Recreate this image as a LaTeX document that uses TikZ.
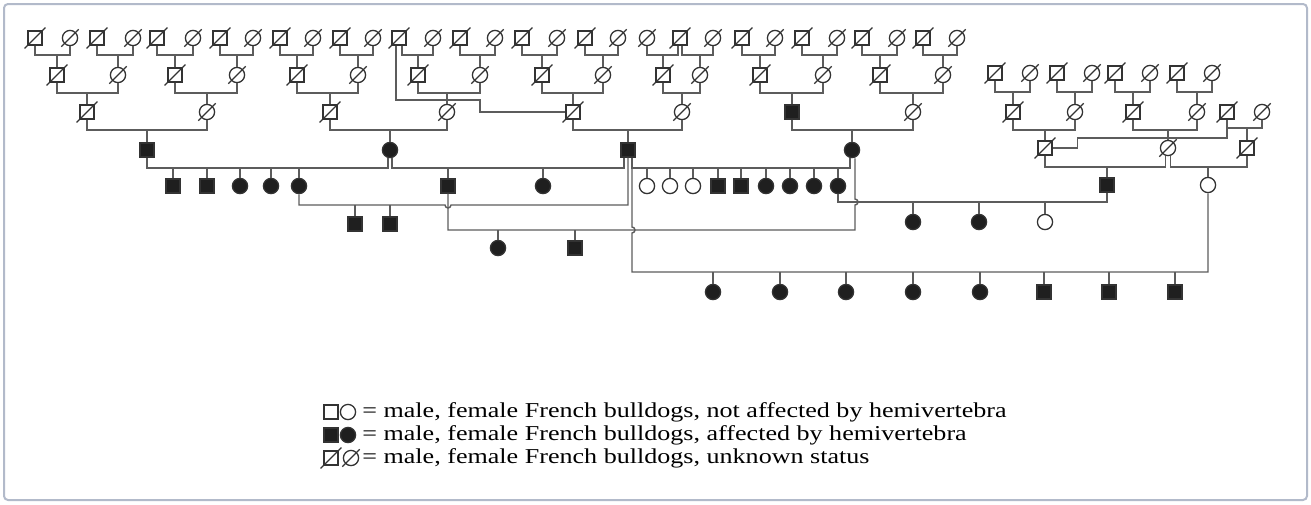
\documentclass[tikz,border=0pt]{standalone}
\usepackage{fontspec}
\setmainfont{Liberation Serif}
\usetikzlibrary{calc}
\definecolor{lc}{gray}{0.36}
\definecolor{sc}{gray}{0.2}
\definecolor{framec}{RGB}{178,186,202}
\tikzset{
  sym/.style={draw=sc, line width=0.65pt, inner sep=0pt},
  male/.style={sym, rectangle, minimum size=7pt},
  fem/.style={sym, circle, minimum size=7.6pt},
  aff/.style={fill=black!88},
  unk/.style={append after command={(\tikzlastnode.south west) edge[draw=sc, line width=0.6pt, shorten <=-2pt, shorten >=-2pt] (\tikzlastnode.north east)}},
  lin/.style={draw=lc, line width=0.7pt},
  legtxt/.style={anchor=west, inner sep=0pt, font=\fontsize{10.6}{12}\selectfont}
}
\begin{document}
\begin{tikzpicture}[x=0.5pt, y=-0.5pt]
        \useasboundingbox (0,0) rectangle (1311,504);
        \draw[framec, line width=1pt, rounded corners=2pt] (4,4) rectangle (1307,500);

        % Founders of the left tree
        \foreach \n/\xx/\s in {a1/35/male, a2/70/fem, a3/97/male, a4/133/fem, a5/157/male, a6/193/fem,
            a7/220/male, a8/253/fem, a9/280/male, a10/313/fem, a11/340/male, a12/373/fem, a13/399/male,
            a14/433/fem, a15/460/male, a16/495/fem, a17/522/male, a18/557/fem, a19/585/male, a20/618/fem,
            a21/647/fem, a22/680/male, a23/713/fem, a24/742/male, a25/775/fem, a26/802/male, a27/837/fem,
            a28/862/male, a29/897/fem, a30/923/male, a31/957/fem}
            \node[\s, unk] (\n) at (\xx,38) {};
        \foreach \n/\xx/\s in {b1/57/male, b2/118/fem, b3/175/male, b4/237/fem, b5/297/male, b6/358/fem,
            b7/418/male, b8/480/fem, b9/542/male, b10/603/fem, b11/663/male, b12/700/fem, b13/760/male,
            b14/823/fem, b15/880/male, b16/943/fem}
            \node[\s, unk] (\n) at (\xx,75) {};
        \foreach \n/\xx/\s in {c1/87/male, c2/207/fem, c3/330/male, c4/447/fem, c5/573/male, c6/682/fem, c8/913/fem}
            \node[\s, unk] (\n) at (\xx,112) {};
        \node[male, aff] (c7) at (792,112) {};

        % Founders of the right tree
        \foreach \n/\xx/\s in {r1/995/male, r2/1030/fem, r3/1057/male, r4/1092/fem, r5/1115/male,
            r6/1150/fem, r7/1177/male, r8/1212/fem}
            \node[\s, unk] (\n) at (\xx,73) {};
        \foreach \n/\xx/\s in {s1/1013/male, s2/1075/fem, s3/1133/male, s4/1197/fem, s5/1227/male, s6/1262/fem}
            \node[\s, unk] (\n) at (\xx,112) {};
        \foreach \n/\xx/\s in {t1/1045/male, t2/1168/fem, t3/1247/male}
            \node[\s, unk] (\n) at (\xx,148) {};
        \node[male, aff] (u1) at (1107,185) {};
        \node[fem] (u2) at (1208,185) {};

        % Affected dogs and their litters
        \node[male, aff] (d1) at (147,150) {};
        \node[fem, aff] (d2) at (390,150) {};
        \node[male, aff] (d3) at (628,150) {};
        \node[fem, aff] (d4) at (852,150) {};
        \foreach \n/\xx/\s in {e1/173/male, e2/207/male, e3/240/fem, e4/271/fem, e5/299/fem, e6/448/male,
            e7/543/fem, e11/718/male, e12/741/male, e13/766/fem, e14/790/fem, e15/814/fem, e16/838/fem}
            \node[\s, aff] (\n) at (\xx,186) {};
        \foreach \n/\xx in {e8/647, e9/670, e10/693}
            \node[fem] (\n) at (\xx,186) {};
        \node[male, aff] (f1) at (355,224) {};
        \node[male, aff] (f2) at (390,224) {};
        \node[fem, aff] (f3) at (913,222) {};
        \node[fem, aff] (f4) at (979,222) {};
        \node[fem] (f5) at (1045,222) {};
        \node[fem, aff] (g1) at (498,248) {};
        \node[male, aff] (g2) at (575,248) {};
        \foreach \n/\xx/\s in {h1/713/fem, h2/780/fem, h3/846/fem, h4/913/fem, h5/980/fem, h6/1044/male,
            h7/1109/male, h8/1175/male}
            \node[\s, aff] (\n) at (\xx,292) {};

        % Points where one dog has more than one line
        \coordinate (a13l) at ([xshift=-1.5pt]a13.south);
        \coordinate (a13r) at ([xshift=1.5pt]a13.south);
        \coordinate (a22l) at ([xshift=-1pt]a22.south);
        \coordinate (a22r) at ([xshift=1pt]a22.south);
        \coordinate (d2l) at ([xshift=-1pt]d2.south);
        \coordinate (d2r) at ([xshift=1pt]d2.south);
        \coordinate (d3a) at ([xshift=-2pt]d3.south);
        \coordinate (d3b) at (d3.south);
        \coordinate (d3c) at ([xshift=2pt]d3.south);
        \coordinate (d4a) at ([xshift=-1pt]d4.south);
        \coordinate (d4b) at ([xshift=1.5pt]d4.south);
        \coordinate (t2l) at ([xshift=-1.2pt]t2.south);
        \coordinate (t2r) at ([xshift=1.2pt]t2.south);

        % Matings with one pup: sire/dam/pup/level
        \foreach \fa/\mo/\ch/\lv in {a1/a2/b1/55, a3/a4/b2/55, a5/a6/b3/55, a7/a8/b4/55, a9/a10/b5/55,
            a11/a12/b6/55, a13r/a14/b7/55, a15/a16/b8/55, a17/a18/b9/55, a19/a20/b10/55, a22l/a21/b11/55,
            a22r/a23/b12/55, a24/a25/b13/55, a26/a27/b14/55, a28/a29/b15/55, a30/a31/b16/55,
            b1/b2/c1/93, b3/b4/c2/93, b5/b6/c3/93, b7/b8/c4/93, b9/b10/c5/93, b11/b12/c6/93,
            b13/b14/c7/93, b15/b16/c8/93, c1/c2/d1/130, c3/c4/d2/130, c5/c6/d3/130, c7/c8/d4/130,
            r1/r2/s1/92, r3/r4/s2/92, r5/r6/s3/92, r7/r8/s4/92, s1/s2/t1/130, s3/s4/t2/130,
            s5/s6/t3/128, t1/t2l/u1/167, t2r/t3/u2/167}
            \draw[lin] (\fa) |- (\mo |- 0,\lv) -- (\mo) (\ch) -- (\ch |- 0,\lv);

        % Same dog drawn twice
        \draw[lin] (a13l) |- (b8 |- 0,100) -- (b8 |- c5) -- (c5);
        \draw[lin] (s5) |- ($(t1.east)+(25,-10)$) |- (t1.east);

        % Litters
        \draw[lin] (d1) |- (d2l |- 0,168) -- (d2l);
        \draw[lin] (d2r) |- (d3a |- 0,168) -- (d3a);
        \draw[lin] (d3c) |- (d4a |- 0,168) -- (d4a);
        \foreach \ch in {e1,e2,e3,e4,e5,e6,e7,e8,e9,e10,e11,e12,e13,e14,e15,e16}
            \draw[lin] (\ch) -- (\ch |- 0,168);

        \draw[lin] (e5) |- ($(e6 |- 0,205)+(-3,0)$) arc[start angle=180, end angle=360, radius=1.5pt]
            -- (d3b |- 0,205) -- (d3b);
        \foreach \ch in {f1,f2}
            \draw[lin] (\ch) -- (\ch |- 0,205);

        \draw[lin] (e6) |- (d4b |- 0,230) -- ($(d4b |- 0,202)+(0,3)$)
            arc[start angle=-90, end angle=90, radius=1.5pt] -- (d4b);
        \foreach \ch in {g1,g2}
            \draw[lin] (\ch) -- (\ch |- 0,230);

        \draw[lin] (e16) |- (u1 |- 0,202) -- (u1);
        \foreach \ch in {f3,f4,f5}
            \draw[lin] (\ch) -- (\ch |- 0,202);

        \draw[lin] (d3c |- 0,168) -- ($(d3c |- 0,230)+(0,-3)$)
            arc[start angle=90, end angle=-90, radius=1.5pt] |- (u2 |- 0,272) -- (u2);
        \foreach \ch in {h1,h2,h3,h4,h5,h6,h7,h8}
            \draw[lin] (\ch) -- (\ch |- 0,272);

        % Key
        \node[male] (k1m) at (331,412) {};
        \node[fem] (k1f) at (348,412) {};
        \node[male, aff] (k2m) at (331,435) {};
        \node[fem, aff] (k2f) at (348,435) {};
        \node[male, unk] (k3m) at (331,458) {};
        \node[fem, unk] (k3f) at (351,458) {};
        \node[legtxt] (k1) at (362,412) {\scalebox{1.23}[1]{= male, female French bulldogs, not affected by hemivertebra}};
        \node[legtxt] (k2) at (362,435) {\scalebox{1.23}[1]{= male, female French bulldogs, affected by hemivertebra}};
        \node[legtxt] (k3) at (362,458) {\scalebox{1.23}[1]{= male, female French bulldogs, unknown status}};
\end{tikzpicture}
\end{document}
